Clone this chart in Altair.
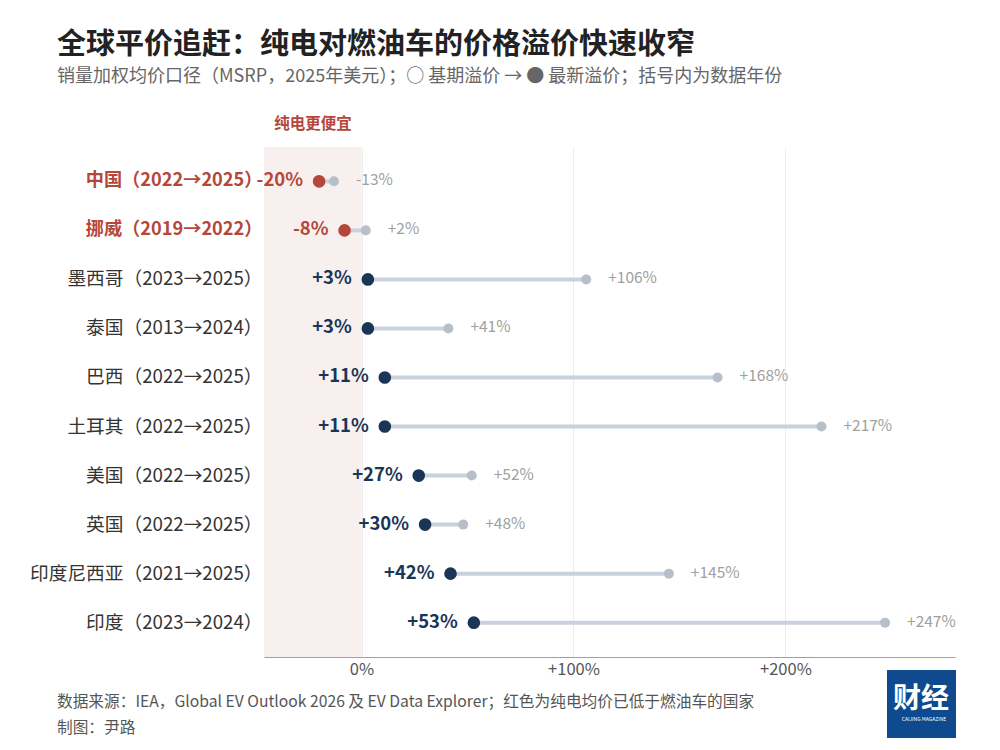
import altair as alt
import pandas as pd

countries = ["中国（2022→2025）", "挪威（2019→2022）", "墨西哥（2023→2025）", "泰国（2013→2024）",
             "巴西（2022→2025）", "土耳其（2022→2025）", "美国（2022→2025）", "英国（2022→2025）",
             "印度尼西亚（2021→2025）", "印度（2023→2024）"]
latest = [-20, -8, 3, 3, 11, 11, 27, 30, 42, 53]
base = [-13, 2, 106, 41, 168, 217, 52, 48, 145, 247]
cheaper = [True, True, False, False, False, False, False, False, False, False]

FONT = "Noto Sans CJK SC"
RED = "#b5473a"
NAVY = "#1b3557"

df = pd.DataFrame({"country": countries, "latest": latest, "base": base, "cheaper": cheaper})
df["latest_label"] = [f"{v:+d}%" if v >= 0 else f"{v}%" for v in latest]
df["base_label"] = [f"{v:+d}%" if v >= 0 else f"{v}%" for v in base]

xscale = alt.Scale(domain=[-46, 280], nice=False, zero=False)
yscale = alt.Scale(domain=countries, paddingOuter=0.2, paddingInner=0)

red_expr = "indexof(['中国（2022→2025）','挪威（2019→2022）'], datum.value) >= 0"

x_enc = alt.X("latest:Q", scale=xscale, title=None,
              axis=alt.Axis(values=[0, 100, 200], labelExpr="datum.value == 0 ? '0%' : '+' + datum.value + '%'",
                            grid=True, gridColor="#ededed", gridWidth=1, ticks=False,
                            domainColor="#a0a0a0", domainWidth=1.2, labelColor="#555555",
                            labelFontSize=16.5, labelPadding=4, labelFont=FONT))
y_enc = alt.Y("country:N", scale=yscale, title=None, sort=countries,
              axis=alt.Axis(ticks=False, domain=False, labelPadding=2, labelFont=FONT,
                            labelLimit=400,
                            labelFontSize={"expr": f"{red_expr} ? 18.2 : 18.7"},
                            labelColor={"expr": f"{red_expr} ? '{RED}' : '#333333'"},
                            labelFontWeight={"expr": f"{red_expr} ? 'bold' : 'normal'"}))

shade = alt.Chart(pd.DataFrame({"a": [-46], "b": [0]})).mark_rect(color="#f8f0ef").encode(
    x=alt.X("a:Q", scale=xscale), x2="b:Q")

base_ch = alt.Chart(df)

segments = base_ch.mark_rule(color="#c9d2dc", strokeWidth=4).encode(
    x=x_enc, x2="base:Q", y=y_enc)

base_dots = base_ch.mark_circle(size=100, opacity=1, color="#b7c0ca").encode(
    x=alt.X("base:Q", scale=xscale), y=alt.Y("country:N", scale=yscale, sort=countries))

latest_dots = base_ch.mark_circle(size=160, opacity=1).encode(
    x=alt.X("latest:Q", scale=xscale), y=alt.Y("country:N", scale=yscale, sort=countries),
    color=alt.Color("cheaper:N", scale=alt.Scale(domain=[True, False], range=[RED, NAVY]), legend=None))

latest_text = base_ch.mark_text(align="right", baseline="middle", dx=-16, dy=-1, fontSize=18.5,
                                fontWeight="bold", font=FONT).encode(
    x=alt.X("latest:Q", scale=xscale), y=alt.Y("country:N", scale=yscale, sort=countries),
    text="latest_label:N",
    color=alt.Color("cheaper:N", scale=alt.Scale(domain=[True, False], range=[RED, NAVY]), legend=None))

base_text = base_ch.mark_text(align="left", baseline="middle", dx=22, dy=-1, fontSize=15.5,
                              color="#a0a0a0", font=FONT).encode(
    x=alt.X("base:Q", scale=xscale), y=alt.Y("country:N", scale=yscale, sort=countries),
    text="base_label:N")

def txt(s, x, y, size, color, weight="normal", align="left"):
    return alt.Chart(pd.DataFrame({"t": [s]})).mark_text(
        align=align, baseline="middle", fontSize=size, color=color, fontWeight=weight, font=FONT
    ).encode(x=alt.value(x), y=alt.value(y), text="t:N")

title = txt("全球平价追赶：纯电对燃油车的价格溢价快速收窄", -207, -102, 29, "#222222", "bold")
subtitle = txt("销量加权均价口径（MSRP，2025年美元）；○ 基期溢价 → ● 最新溢价；括号内为数据年份", -207, -70, 18, "#666666")
cheap_note = txt("纯电更便宜", 49, -23, 15.5, RED, "bold", "center")
foot1 = txt("数据来源：IEA，Global EV Outlook 2026 及 EV Data Explorer；红色为纯电均价已低于燃油车的国家", -207, 555, 15.7, "#555555")
foot2 = txt("制图：尹路", -207, 581, 15.7, "#555555")

logo_box = alt.Chart(pd.DataFrame({"k": [1]})).mark_rect(color="#0f4a8e").encode(
    x=alt.value(623), x2=alt.value(692), y=alt.value(523), y2=alt.value(591))
logo_text = txt("财经", 657, 553, 28, "#ffffff", "bold", "center")
logo_sub = txt("CAIJING MAGAZINE", 660, 572, 5, "#ffffff", "normal", "center")

chart = alt.layer(shade, segments, base_dots, latest_dots, latest_text, base_text,
                  title, subtitle, cheap_note, foot1, foot2, logo_box, logo_text, logo_sub).properties(
    width=691, height=510,
    autosize=alt.AutoSizeParams(type="none"),
    padding={"left": 256, "top": 139, "right": 37, "bottom": 85},
    background="#ffffff",
).configure_view(stroke=None)

chart.save("out.html", embed_options={"renderer": "svg", "actions": False})
